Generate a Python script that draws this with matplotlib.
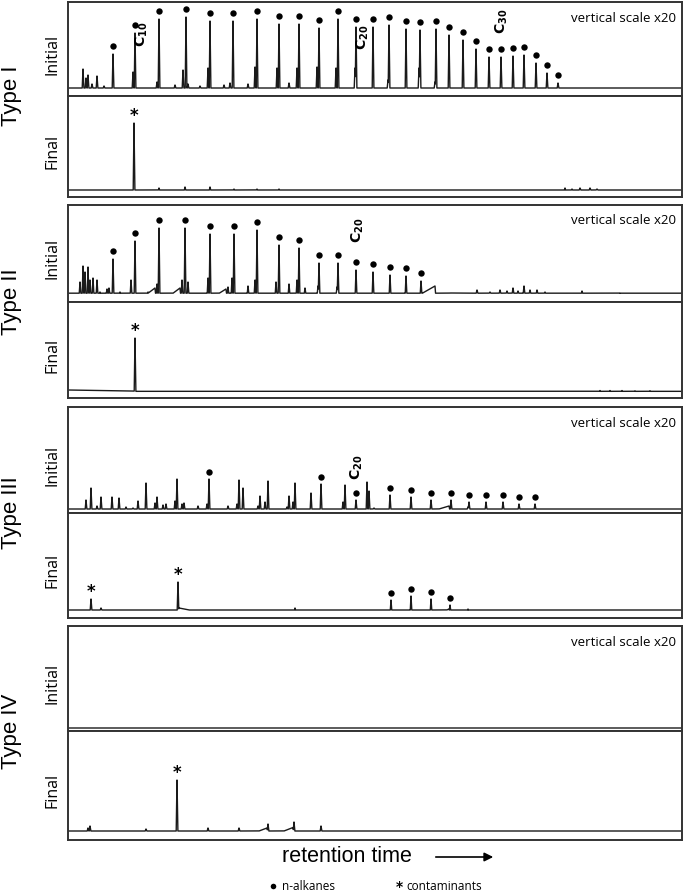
import numpy as np
import matplotlib
matplotlib.use("Agg")
import matplotlib.pyplot as plt
from matplotlib.lines import Line2D
from matplotlib.patches import FancyArrowPatch

W, H = 685, 896
RT_MIN, RT_MAX = 68, 682

# ---- data (retention time in arbitrary units, signal in panel units) ----
# Type I
T1_INIT_ALK_X = [113, 135, 159, 186, 210, 233, 257, 279, 299, 319, 338, 356, 373, 389,
                 406, 420, 436, 449, 463, 476, 489, 501, 513, 524, 536, 547, 558]
T1_INIT_ALK_Y = [42, 63, 77, 79, 75, 75, 77, 72, 72, 68, 77, 69, 69, 71,
                 67, 66, 67, 61, 56, 47, 39, 39, 40, 41, 33, 23, 13]
T1_INIT_MINOR = [(83, 27), (86, 18), (88, 21), (92, 12), (97, 20), (104, 10), (133, 24),
                 (157, 14), (175, 11), (183, 26), (188, 12), (200, 10), (208, 28), (224, 11),
                 (230, 13), (248, 12), (255, 29), (277, 28), (289, 13), (297, 28), (317, 29),
                 (336, 28), (355, 28), (388, 16), (419, 28), (435, 14)]
T1_INIT_BASE = [(68, 8), (560, 8), (682, 7.5)]

T1_FINAL_CONT = [(134, 74)]
T1_FINAL_MINOR = [(159, 9), (185, 10), (210, 10), (234, 8), (257, 8), (279, 8),
                  (565, 9), (572, 8), (580, 9), (590, 9), (597, 8)]
T1_FINAL_BASE = [(68, 6), (300, 6.5), (440, 6.5), (441, 5), (560, 5), (575, 7), (598, 7), (600, 6), (682, 6)]

# Type II
T2_INIT_ALK_X = [113, 135, 159, 185, 210, 234, 257, 279, 299, 319, 338, 356, 373, 390, 406, 421]
T2_INIT_ALK_Y = [43, 61, 74, 74, 68, 68, 72, 57, 54, 39, 39, 32, 30, 27, 26, 21]
T2_INIT_MINOR = [(80, 20), (83, 36), (85, 30), (88, 35), (90, 22), (93, 24), (97, 22), (100, 10),
                 (107, 13), (109, 14), (120, 10), (131, 22), (148, 10), (157, 18), (182, 22),
                 (188, 20), (208, 24), (228, 15), (232, 24), (248, 16), (255, 22), (276, 20),
                 (289, 18), (297, 22), (305, 14), (318, 16), (337, 15), (477, 12), (490, 10),
                 (500, 12), (507, 11), (513, 14), (518, 11), (524, 16), (530, 12), (537, 12),
                 (545, 10), (582, 11), (620, 9)]
T2_INIT_RAMPS = [(155, 14, 8, 0.5), (180, 14, 8, 0.5), (226, 13, 8, 0.5), (435, 16, 14, 0.5)]
T2_INIT_BASE = [(68, 5), (78, 5), (80, 8), (440, 8), (450, 9), (600, 8), (682, 6)]

T2_FINAL_CONT = [(135, 60)]
T2_FINAL_MINOR = [(600, 7.5), (610, 7.5), (622, 7.5), (635, 7.2), (650, 7.3)]
T2_FINAL_BASE = [(68, 8), (134, 7), (137, 6), (682, 6)]

# Type III
T3_INIT_ALK_X = [209, 321, 356, 390, 411, 431, 451, 469, 486, 503, 519, 535]
T3_INIT_ALK_Y = [34, 29, 13, 18, 16, 13, 13, 11, 11, 11, 9, 9]
T3_INIT_MINOR = [(86, 13), (91, 25), (97, 7), (101, 16), (112, 16), (119, 15), (126, 6), (133, 5),
                 (138, 12), (146, 30), (155, 10), (157, 16), (163, 8), (166, 9), (175, 12),
                 (177, 34), (182, 9), (184, 10), (198, 7), (207, 9), (228, 7), (237, 9), (239, 33),
                 (243, 25), (258, 7), (260, 17), (265, 11), (268, 32), (287, 6), (289, 17),
                 (293, 11), (295, 30), (311, 20), (343, 11), (345, 28), (367, 31), (369, 22),
                 (374, 5), (468, 6)]
T3_INIT_RAMPS = [(449, 7, 10, 0.5)]
T3_INIT_BASE = [(68, 4), (682, 4)]

T3_FINAL_CONT = [(91, 19), (178, 36)]
T3_FINAL_ALK_X = [391, 411, 431, 450]
T3_FINAL_ALK_Y = [18, 22, 19, 13]
T3_FINAL_MINOR = [(101, 10), (268, 8), (295, 10), (328, 7), (468, 9), (486, 8), (549, 7)]
T3_FINAL_RAMPS = [(179, 10, 0.5, 10), (449, 9, 6, 0.5)]
T3_FINAL_BASE = [(68, 6), (91, 8), (178, 8), (240, 6.5), (682, 6)]

# Type IV
T4_INIT_BASE = [(68, 3), (682, 3)]
T4_FINAL_CONT = [(177, 60)]
T4_FINAL_MINOR = [(88, 12), (90, 14), (146, 11), (208, 12), (239, 12), (268, 16), (294, 18), (321, 14)]
T4_FINAL_RAMPS = [(267, 12, 8, 0.5), (293, 12.5, 9, 0.5)]
T4_FINAL_BASE = [(68, 9), (682, 9)]

TYPES = ["Type I", "Type II", "Type III", "Type IV"]
C_LABELS = [(0, "10", 142, 62), (0, "20", 363, 59), (0, "30", 502, 75),
            (1, "20", 358, 72), (2, "20", 357, 46)]

# panel pixel boxes (top, bottom)
BOXES = [((2, 96), (96, 197)), ((205, 302), (302, 398)),
         ((407, 513), (513, 618)), ((626, 731), (731, 840))]

LINE = "#1a1a1a"
plt.rcParams["font.family"] = ["Open Sans", "DejaVu Sans"]
plt.rcParams["mathtext.fontset"] = "dejavusans"


def trace(base, spikes=(), ramps=()):
    x = np.linspace(RT_MIN, RT_MAX, 12281)
    bx, by = zip(*base)
    y = np.interp(x, bx, by)
    out = y.copy()
    for pos, top in spikes:
        b = np.interp(pos, bx, by)
        tri = np.clip(1 - np.abs(x - pos) / 0.8, 0, 1)
        out = np.maximum(out, b + (top - b) * tri)
    for pos, top, wl, wr in ramps:
        b = np.interp(pos, bx, by)
        d = x - pos
        tri = np.where(d < 0, 1 + d / wl, 1 - d / wr)
        out = np.maximum(out, b + (top - b) * np.clip(tri, 0, 1))
    return x, out


def px(x, y):
    return x / W, 1 - y / H


fig = plt.figure(figsize=(W / 100, H / 100), dpi=100)

panels = [
    (T1_INIT_BASE, list(zip(T1_INIT_ALK_X, T1_INIT_ALK_Y)) + T1_INIT_MINOR, [], (T1_INIT_ALK_X, T1_INIT_ALK_Y), []),
    (T1_FINAL_BASE, T1_FINAL_CONT + T1_FINAL_MINOR, [], None, T1_FINAL_CONT),
    (T2_INIT_BASE, list(zip(T2_INIT_ALK_X, T2_INIT_ALK_Y)) + T2_INIT_MINOR, T2_INIT_RAMPS, (T2_INIT_ALK_X, T2_INIT_ALK_Y), []),
    (T2_FINAL_BASE, T2_FINAL_CONT + T2_FINAL_MINOR, [], None, T2_FINAL_CONT),
    (T3_INIT_BASE, list(zip(T3_INIT_ALK_X, T3_INIT_ALK_Y)) + T3_INIT_MINOR, T3_INIT_RAMPS, (T3_INIT_ALK_X, T3_INIT_ALK_Y), []),
    (T3_FINAL_BASE, list(zip(T3_FINAL_ALK_X, T3_FINAL_ALK_Y)) + T3_FINAL_CONT + T3_FINAL_MINOR, T3_FINAL_RAMPS, (T3_FINAL_ALK_X, T3_FINAL_ALK_Y), T3_FINAL_CONT),
    (T4_INIT_BASE, [], [], None, []),
    (T4_FINAL_BASE, T4_FINAL_CONT + T4_FINAL_MINOR, T4_FINAL_RAMPS, None, T4_FINAL_CONT),
]

axes = []
for i, (base, spikes, ramps, alk, cont) in enumerate(panels):
    top, bot = BOXES[i // 2][i % 2]
    l, b = px(RT_MIN, bot)
    ax = fig.add_axes([l, b, (RT_MAX - RT_MIN) / W, (bot - top) / H])
    ax.set_xlim(RT_MIN, RT_MAX)
    ax.set_ylim(0, bot - top)
    ax.set_xticks([])
    ax.set_yticks([])
    for s in ax.spines.values():
        s.set_linewidth(1.4)
        s.set_color("#333333")
    x, y = trace(base, spikes, ramps)
    ax.plot(x, y, color=LINE, lw=1.0)
    if alk is not None:
        ax.plot(alk[0], np.array(alk[1]) + 7.5, "o", color="black", ms=4.6, mec="none")
    for cx, cy in cont:
        ax.text(cx, cy + 7, "*", ha="center", va="center", fontsize=12,
                fontweight="bold", family="DejaVu Sans")
    axes.append(ax)

    # Initial / Final labels
    fig.text(*px(53, (top + bot) / 2 + 5), "Initial" if i % 2 == 0 else "Final",
             rotation=90, ha="center", va="center", fontsize=11.5)
    if i % 2 == 0:
        fig.text(*px(676, top + 16), "vertical scale x20", ha="right", va="center", fontsize=9.5)

for k, name in enumerate(TYPES):
    split = BOXES[k][0][1]
    fig.text(*px(12, split), name, rotation=90, ha="center", va="center",
             fontsize=16, family="Liberation Sans")

for k, num, cx, cy in C_LABELS:
    axes[2 * k].text(cx, cy, r"$\mathbf{C}_{\mathbf{%s}}$" % num, rotation=90,
                     ha="center", va="center", fontsize=10)

fig.text(*px(347, 856), "retention time", ha="center", va="center",
         fontsize=15.5, family="Liberation Sans")
fig.add_artist(FancyArrowPatch(px(433, 857), px(496, 857), transform=fig.transFigure,
                               arrowstyle="-|>", mutation_scale=13, lw=1.2, color="black"))

fig.add_artist(Line2D([273 / W], [1 - 886 / H], marker="o", ms=4, color="black",
                      mec="none", transform=fig.transFigure))
fig.text(*px(282, 886), "n-alkanes", ha="left", va="center", fontsize=8.5)
fig.text(*px(399, 887), "*", ha="center", va="center", fontsize=10,
         fontweight="bold", family="DejaVu Sans")
fig.text(*px(406, 886), "contaminants", ha="left", va="center", fontsize=8.5)

fig.savefig("out.png", dpi=100)
